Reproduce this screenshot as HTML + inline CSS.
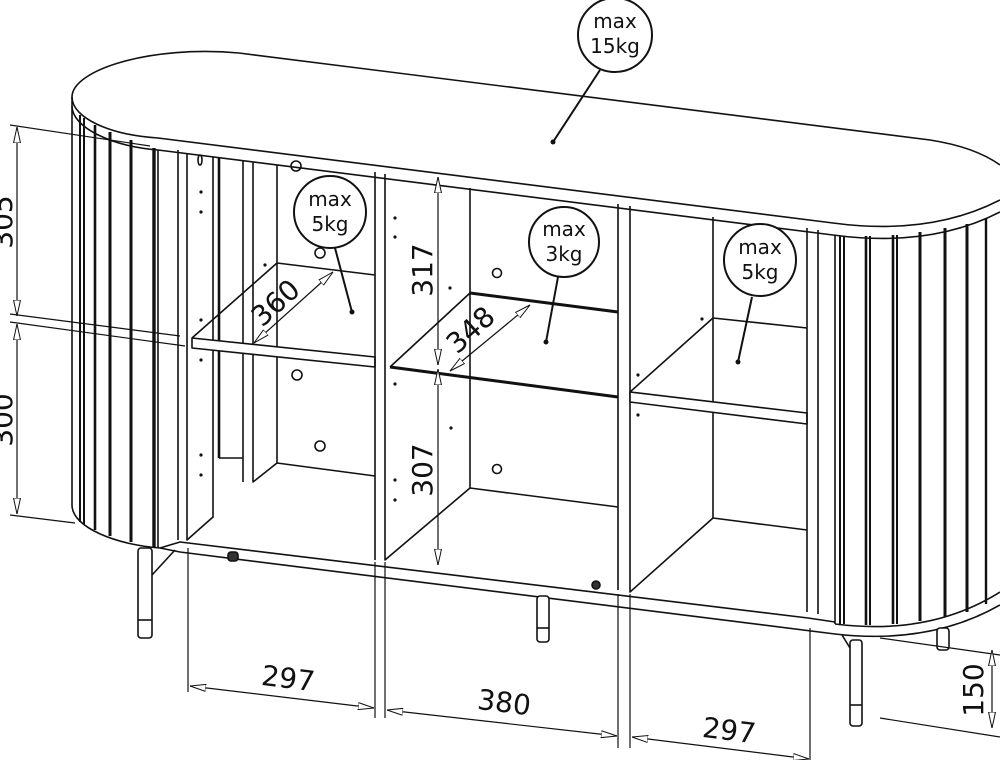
<!DOCTYPE html>
<html><head><meta charset="utf-8"><style>
html,body{margin:0;padding:0;background:#fff;width:1000px;height:760px;overflow:hidden}
svg{display:block}
text{font-family:"DejaVu Sans","Liberation Sans",sans-serif;fill:#111}
</style></head><body>
<svg width="1000" height="760" viewBox="0 0 1000 760" xmlns="http://www.w3.org/2000/svg">
<defs>
<marker id="a" viewBox="0 0 16 8" refX="16" refY="4" markerWidth="16" markerHeight="8" markerUnits="userSpaceOnUse" orient="auto-start-reverse"><path d="M0,0.5 L16,4 L0,7.5 Z" fill="#fff" stroke="#111" stroke-width="1"/></marker>
</defs>
<g fill="none" stroke="#111" stroke-width="1.6" stroke-linejoin="round">
<!-- top -->
<path d="M239,53 C150,45 72,70 72,97 C72,118 110,135 158,138 L833,223 Q930,236 1000,200" fill="#fff"/>
<path d="M239,53 L930,140 Q975,147 1000,165"/>
<path d="M72,97 L72,106 C72,127 110,146 158,150 L833,235 Q930,248 1000,212"/>
<!-- left drum -->
<path d="M72,106 L72,505 C72,528 118,545 160,548"/>
<line x1="158" y1="150" x2="158" y2="548"/>
<g stroke-width="2">
<line x1="80" y1="115" x2="80" y2="522"/><line x1="84" y1="118" x2="84" y2="524"/>
<line x1="95" y1="125" x2="95" y2="530" stroke-width="2.6"/>
<line x1="110" y1="132" x2="110" y2="536" stroke-width="3"/>
<line x1="131" y1="140" x2="131" y2="542" stroke-width="3"/>
<line x1="154" y1="148" x2="154" y2="547" stroke-width="3.4"/>
</g>
<!-- left dimension -->
<g stroke-width="1.2">
<line x1="10" y1="125" x2="150" y2="146"/>
<line x1="10" y1="314" x2="180" y2="336"/>
<line x1="10" y1="322" x2="185" y2="346"/>
<line x1="10" y1="515" x2="75" y2="523"/>
<line x1="17" y1="127" x2="17" y2="316" marker-start="url(#a)" marker-end="url(#a)"/>
<line x1="17" y1="324" x2="17" y2="514" marker-start="url(#a)" marker-end="url(#a)"/>
</g>
<!-- left side panel -->
<line x1="178" y1="150" x2="178" y2="540"/>
<path d="M187,153 L187,540 L213,517 L213,157"/>
<line x1="219" y1="158" x2="219" y2="458" stroke-width="2.6"/>
<line x1="243" y1="160" x2="243" y2="482"/>
<path d="M253,162 L253,482 L277,463"/>
<line x1="219" y1="458" x2="243" y2="458"/>
<line x1="277" y1="165" x2="277" y2="463"/>
<line x1="277" y1="463" x2="375" y2="476"/>
<!-- left shelf -->
<path d="M192,338 L277,263 L375,275" />
<path d="M192,338 L375,357 L375,367 L192,348 Z" fill="#fff"/>
<!-- middle divider -->
<path d="M375,172 L375,560 M385,174 L385,560 L470,488"/>
<line x1="470" y1="188" x2="470" y2="488"/>
<line x1="470" y1="488" x2="618" y2="507"/>
<path d="M390,367 L470,293" />
<line x1="470" y1="293" x2="618" y2="312" stroke-width="3"/>
<line x1="390" y1="367" x2="618" y2="397" stroke-width="3"/>
<!-- right divider -->
<path d="M618,204 L618,590 M630,206 L630,592 L713,518"/>
<line x1="713" y1="217" x2="713" y2="518"/>
<line x1="713" y1="518" x2="807" y2="530"/>
<path d="M630,392 L713,318 L807,328"/>
<path d="M630,392 L807,413 L807,424 L630,402 Z" fill="#fff"/>
<!-- right panel and drum -->
<line x1="807" y1="228" x2="807" y2="612"/>
<line x1="818" y1="230" x2="818" y2="614"/>
<line x1="835" y1="235" x2="835" y2="624"/>
<g stroke-width="2">
<line x1="840" y1="236" x2="840" y2="624"/><line x1="844" y1="236" x2="844" y2="624"/>
<line x1="866" y1="236" x2="866" y2="625" stroke-width="2.6"/><line x1="870" y1="236" x2="870" y2="625"/>
<line x1="893" y1="235" x2="893" y2="624" stroke-width="2.6"/><line x1="897" y1="235" x2="897" y2="624"/>
<line x1="920" y1="232" x2="920" y2="621" stroke-width="3"/>
<line x1="945" y1="228" x2="945" y2="617" stroke-width="3"/>
<line x1="967" y1="224" x2="967" y2="612" stroke-width="3"/>
<line x1="986" y1="218" x2="986" y2="604" stroke-width="2.4"/>
</g>
<path d="M835,624 Q930,636 1000,592"/>
<!-- bottom plinth -->
<path d="M160,548 L180,542 L808,618 L835,622"/>
<path d="M160,548 L180,552 L835,634 Q930,645 1000,605"/>
<!-- legs -->
<rect x="138" y="548" width="14" height="90" rx="3" fill="#fff"/>
<line x1="138" y1="620" x2="152" y2="620"/>
<path d="M152,575 L175,550"/>
<rect x="537" y="596" width="12" height="46" rx="3" fill="#fff"/>
<line x1="537" y1="628" x2="549" y2="628"/>
<rect x="850" y="640" width="12" height="86" rx="3" fill="#fff"/>
<line x1="850" y1="705" x2="862" y2="705"/>
<path d="M850,648 L842,635"/>
<rect x="937" y="628" width="12" height="22" rx="3" fill="#fff"/>
<rect x="228" y="552" width="10" height="9" rx="3" fill="#333"/>
<circle cx="596" cy="585" r="4" fill="#333"/>
<!-- holes -->
<circle cx="296" cy="166" r="5"/><circle cx="320" cy="253" r="5"/><circle cx="297" cy="375" r="5"/><circle cx="320" cy="446" r="5"/>
<circle cx="497" cy="273" r="4.5"/><circle cx="497" cy="469" r="4.5"/>
<ellipse cx="200" cy="160" rx="2" ry="5"/>
</g>
<g fill="#111">
<circle cx="201" cy="192" r="1.6"/><circle cx="201" cy="212" r="1.6"/><circle cx="201" cy="320" r="1.6"/><circle cx="201" cy="360" r="1.6"/><circle cx="201" cy="455" r="1.6"/><circle cx="201" cy="475" r="1.6"/><circle cx="265" cy="265" r="1.6"/>
<circle cx="395" cy="218" r="1.6"/><circle cx="395" cy="237" r="1.6"/><circle cx="395" cy="384" r="1.6"/><circle cx="395" cy="480" r="1.6"/><circle cx="395" cy="500" r="1.6"/><circle cx="450" cy="288" r="1.6"/><circle cx="451" cy="428" r="1.6"/>
<circle cx="638" cy="375" r="1.6"/><circle cx="638" cy="415" r="1.6"/><circle cx="702" cy="319" r="1.6"/>
</g>
<!-- inner dims -->
<g fill="none" stroke="#111" stroke-width="1.2">
<line x1="438" y1="177" x2="438" y2="365" marker-start="url(#a)" marker-end="url(#a)"/>
<line x1="438" y1="369" x2="438" y2="565" marker-start="url(#a)" marker-end="url(#a)"/>
<line x1="254" y1="343" x2="333" y2="272" marker-start="url(#a)" marker-end="url(#a)"/>
<line x1="450" y1="371" x2="530" y2="305" marker-start="url(#a)" marker-end="url(#a)"/>
<!-- bottom dims -->
<line x1="188" y1="548" x2="188" y2="692"/>
<line x1="375" y1="562" x2="375" y2="718"/><line x1="385" y1="562" x2="385" y2="718"/>
<line x1="618" y1="594" x2="618" y2="748"/><line x1="630" y1="594" x2="630" y2="748"/>
<line x1="810" y1="628" x2="810" y2="760"/>
<line x1="190" y1="686" x2="374" y2="708" marker-start="url(#a)" marker-end="url(#a)"/>
<line x1="387" y1="710" x2="617" y2="736" marker-start="url(#a)" marker-end="url(#a)"/>
<line x1="632" y1="737" x2="809" y2="759" marker-start="url(#a)" marker-end="url(#a)"/>
<line x1="880" y1="638" x2="1000" y2="655"/>
<line x1="880" y1="718" x2="1000" y2="737"/>
<line x1="992" y1="650" x2="992" y2="728" marker-start="url(#a)" marker-end="url(#a)"/>
</g>
<!-- callouts -->
<g fill="#fff" stroke="#111" stroke-width="2">
<line x1="600" y1="70" x2="553" y2="142"/>
<line x1="335" y1="248" x2="352" y2="312"/>
<line x1="558" y1="277" x2="546" y2="342"/>
<line x1="752" y1="297" x2="738" y2="362"/>
<circle cx="615" cy="35" r="37"/>
<circle cx="330" cy="212" r="36"/>
<circle cx="564" cy="242" r="35"/>
<circle cx="760" cy="260" r="36"/>
</g>
<g fill="#111"><circle cx="553" cy="142" r="2.5"/><circle cx="352" cy="312" r="2.5"/><circle cx="546" cy="342" r="2.5"/><circle cx="738" cy="362" r="2.5"/></g>
<g font-size="20" text-anchor="middle">
<text x="615" y="28">max</text><text x="615" y="53">15kg</text>
<text x="330" y="206">max</text><text x="330" y="231">5kg</text>
<text x="564" y="236">max</text><text x="564" y="261">3kg</text>
<text x="760" y="254">max</text><text x="760" y="279">5kg</text>
</g>
<g font-size="28" text-anchor="middle">
<text transform="translate(432,270) rotate(-90)">317</text>
<text transform="translate(432,470) rotate(-90)">307</text>
<text transform="translate(282,310) rotate(-42)">360</text>
<text transform="translate(477,337) rotate(-42)">348</text>
<text transform="translate(12,222) rotate(-90)">305</text>
<text transform="translate(12,420) rotate(-90)">300</text>
<text transform="translate(287,688) rotate(7)">297</text>
<text transform="translate(503,712) rotate(7)">380</text>
<text transform="translate(728,740) rotate(7)">297</text>
<text transform="translate(983,690) rotate(-90)">150</text>
</g>
</svg>
</body></html>
